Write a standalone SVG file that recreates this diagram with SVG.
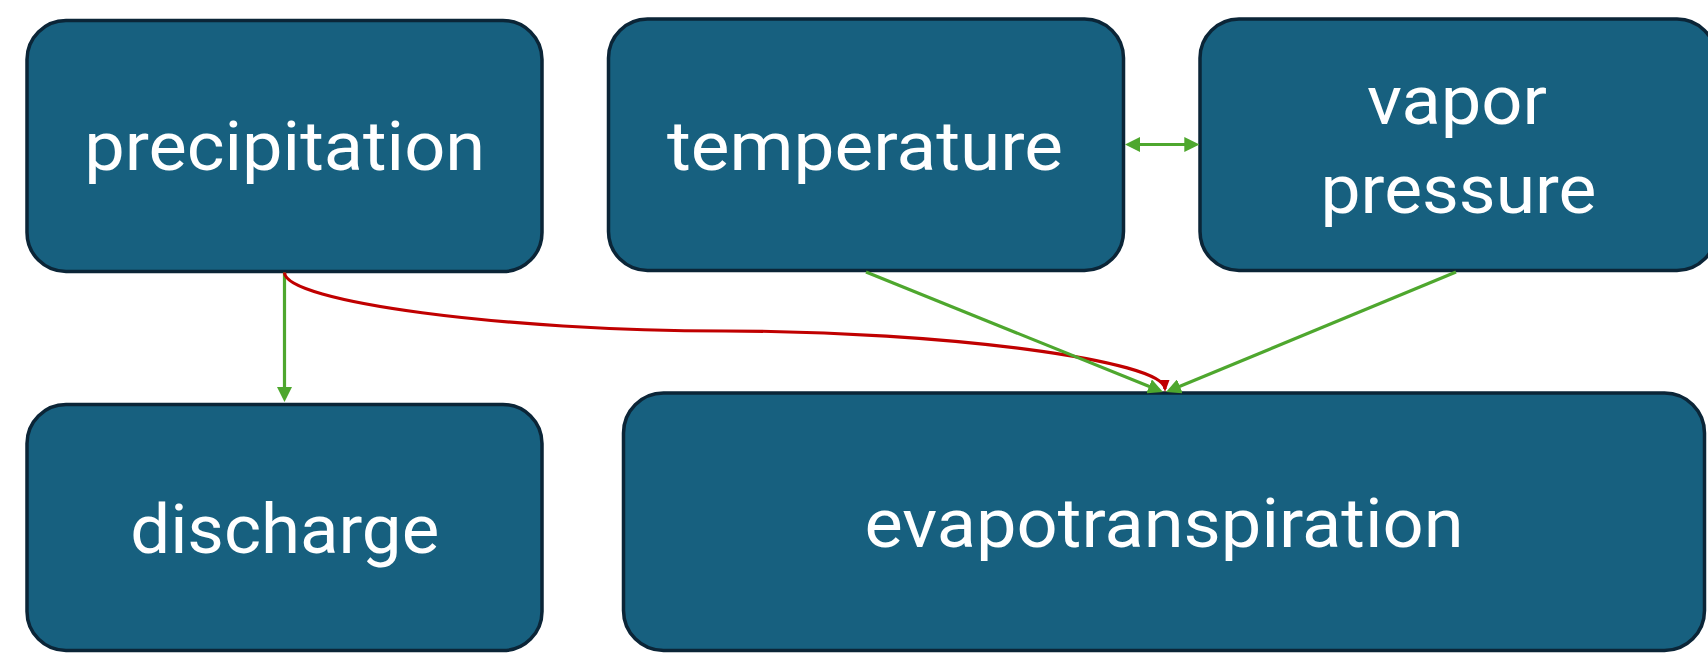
<svg xmlns="http://www.w3.org/2000/svg" width="1708" height="653" viewBox="0 0 1708 653">
  <style>
    .box { fill: #17607F; stroke: #0B2537; stroke-width: 3.5; }
    .lbl { fill: #FFFFFF; font-family: Roboto, "Liberation Sans", sans-serif; font-size: 68px; text-anchor: middle; }
    .g { fill: none; stroke: #4EA72E; stroke-width: 3.2; }
    .r { fill: none; stroke: #C00000; stroke-width: 3.2; }
  </style>
  <defs>
    <marker id="ag" viewBox="0 0 15 15" refX="11" refY="7.5" markerWidth="15" markerHeight="15" markerUnits="userSpaceOnUse" orient="auto-start-reverse">
      <path d="M0,0 L15,7.5 L0,15 z" fill="#4EA72E"/>
    </marker>
    <marker id="ar" viewBox="0 0 12 9" refX="9" refY="4.5" markerWidth="12" markerHeight="9" markerUnits="userSpaceOnUse" orient="auto">
      <path d="M0,0 L12,4.5 L0,9 z" fill="#C00000"/>
    </marker>
  </defs>
  <rect width="1708" height="653" fill="#FFFFFF"/>

  <g id="precipitation">
    <rect class="box" x="27" y="20.5" width="515" height="251" rx="39" ry="39"/>
    <text class="lbl" x="284.7" y="170" textLength="401" lengthAdjust="spacingAndGlyphs">precipitation</text>
  </g>
  <g id="discharge">
    <rect class="box" x="27" y="404.5" width="515" height="246" rx="39" ry="39"/>
    <text class="lbl" x="284.7" y="553" textLength="309" lengthAdjust="spacingAndGlyphs">discharge</text>
  </g>
  <g id="temperature">
    <rect class="box" x="608.5" y="19" width="515" height="251.5" rx="39" ry="39"/>
    <text class="lbl" x="865" y="170" textLength="396" lengthAdjust="spacingAndGlyphs">temperature</text>
  </g>
  <g id="vapor-pressure">
    <rect class="box" x="1200" y="19" width="516" height="251.5" rx="39" ry="39"/>
    <text class="lbl" x="1457" y="124" textLength="180" lengthAdjust="spacingAndGlyphs">vapor</text>
    <text class="lbl" x="1458.5" y="213" textLength="276" lengthAdjust="spacingAndGlyphs">pressure</text>
  </g>
  <g id="evapotranspiration">
    <rect class="box" x="623.5" y="393" width="1081" height="257.5" rx="40" ry="40"/>
    <text class="lbl" x="1164" y="547" textLength="599" lengthAdjust="spacingAndGlyphs">evapotranspiration</text>
  </g>

  <g id="connectors">
    <line class="g" x1="284.5" y1="272.5" x2="284.5" y2="398" marker-end="url(#ag)"/>
    <path class="r" d="M284.5,272.5 C284.5,301.75 504.6,331 724.7,331 C944.8,331 1165,360.5 1165,389" marker-end="url(#ar)"/>
    <line class="g" x1="866" y1="272" x2="1159.3" y2="390.5" marker-end="url(#ag)"/>
    <line class="g" x1="1456" y1="272" x2="1169.7" y2="390.5" marker-end="url(#ag)"/>
    <line class="g" x1="1129" y1="144.5" x2="1195.3" y2="144.5" marker-start="url(#ag)" marker-end="url(#ag)"/>
  </g>
</svg>
